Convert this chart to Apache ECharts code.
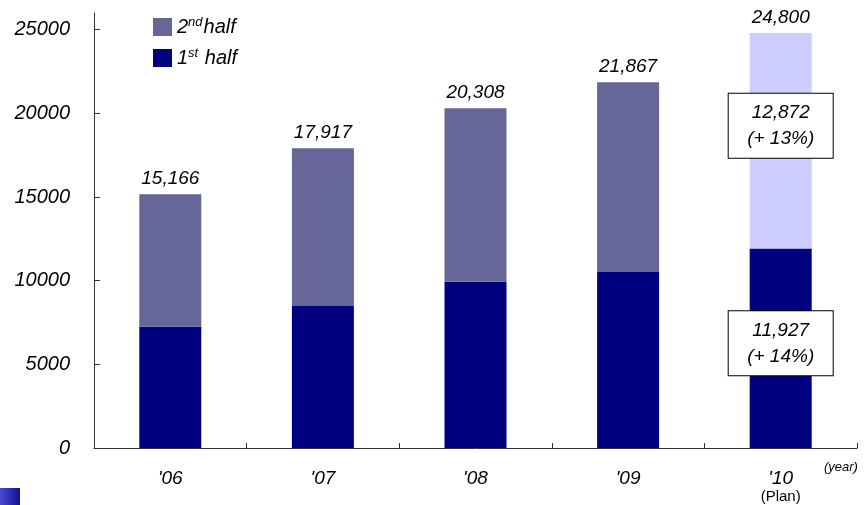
<!DOCTYPE html>
<html>
<head>
<meta charset="utf-8">
<script src="https://cdn.jsdelivr.net/npm/echarts@6/dist/echarts.min.js"></script>
<style>
  html, body { margin: 0; padding: 0; background: #fff; }
  #chart { width: 867px; height: 505px; }
</style>
</head>
<body>
<div id="chart"></div>
<script>
// Sales by half-year, 2006–2010 (2010 is the plan)
const years = ["'06", "'07", "'08", "'09", "'10"];
const firstHalf = [7240, 8490, 9930, 10520, 11927];
const secondHalf = [7926, 9427, 10378, 11347, 12872];
const totals = [15166, 17917, 20308, 21867, 24800];
const growthFirst = '(+ 14%)';
const growthSecond = '(+ 13%)';
const yTicks = [0, 5000, 10000, 15000, 20000, 25000];

const FONT = 'Liberation Sans, Arial, sans-serif';
const C_FIRST = '#000080';
const C_SECOND = '#666699';
const C_PLAN = '#ccccff';
const last = years.length - 1;

const boxLabel = (offsetY) => ({
  show: true,
  position: 'inside',
  offset: [0, offsetY],
  formatter: (p) => '{v|' + p.value.toLocaleString('en-US') + '}\n{v|' +
    (p.seriesName === '1st half' ? growthFirst : growthSecond) + '}',
  backgroundColor: '#fff',
  borderColor: '#000',
  borderWidth: 1,
  width: 96,
  padding: [6, 4],
  align: 'center',
  rich: {
    v: { fontFamily: FONT, fontStyle: 'italic', fontSize: 19, lineHeight: 26, color: '#000', align: 'center' }
  }
});

const firstData = firstHalf.map((v, i) => i === last
  ? { value: v, label: boxLabel(-5) }
  : v);
const secondData = secondHalf.map((v, i) => i === last
  ? { value: v, itemStyle: { color: C_PLAN }, label: boxLabel(-15) }
  : v);

const chart = echarts.init(document.getElementById('chart'), null, { renderer: 'canvas' });
chart.setOption({
  animation: false,
  backgroundColor: '#fff',
  grid: { left: 94, right: 10, top: 13, bottom: 56 },
  legend: {
    data: ['2nd half', '1st half'],
    orient: 'vertical',
    left: 148,
    top: 11,
    itemWidth: 19,
    itemHeight: 18,
    itemGap: 9,
    icon: 'rect',
    formatter: (name) => name === '2nd half' ? '2{sup|nd}half' : '1{sup|st} half',
    textStyle: {
      fontFamily: FONT, fontStyle: 'italic', fontSize: 20, lineHeight: 22, color: '#000',
      rich: {
        sup: { fontFamily: FONT, fontStyle: 'italic', fontSize: 13, lineHeight: 22, verticalAlign: 'top', color: '#000', padding: [0, 1, 0, 0] }
      }
    }
  },
  xAxis: {
    type: 'category',
    data: years,
    axisLine: { lineStyle: { color: '#333', width: 1 } },
    axisTick: { show: true, inside: true, length: 5, alignWithLabel: false, lineStyle: { color: '#333' } },
    axisLabel: {
      margin: 21,
      fontFamily: FONT, fontStyle: 'italic', fontSize: 19, lineHeight: 20, color: '#000',
      formatter: (v, i) => i === last ? v + '\n{s|(Plan)}' : v,
      rich: {
        s: { fontFamily: FONT, fontStyle: 'normal', fontSize: 15, lineHeight: 16, color: '#000' }
      }
    }
  },
  yAxis: {
    type: 'value',
    min: 0,
    max: 26000,
    interval: 5000,
    splitLine: { show: false },
    axisLine: { show: true, lineStyle: { color: '#333', width: 1 } },
    axisTick: { show: true, inside: true, length: 6, lineStyle: { color: '#333' } },
    axisLabel: {
      margin: 24,
      showMaxLabel: false,
      fontFamily: FONT, fontStyle: 'italic', fontSize: 20, color: '#000',
      formatter: (v) => yTicks.includes(v) ? String(v) : ''
    }
  },
  series: [
    {
      name: '1st half',
      type: 'bar',
      stack: 'sales',
      barWidth: 62,
      itemStyle: { color: C_FIRST },
      data: firstData
    },
    {
      name: '2nd half',
      type: 'bar',
      stack: 'sales',
      barWidth: 62,
      itemStyle: { color: C_SECOND },
      data: secondData
    },
    {
      name: 'total',
      type: 'bar',
      barWidth: 62,
      barGap: '-100%',
      z: 1,
      silent: true,
      itemStyle: { color: 'rgba(0,0,0,0)' },
      label: {
        show: true,
        position: 'top',
        distance: 6,
        fontFamily: FONT, fontStyle: 'italic', fontSize: 19, color: '#000',
        formatter: (p) => p.value.toLocaleString('en-US')
      },
      data: totals
    }
  ],
  graphic: [
    {
      type: 'text',
      left: 824,
      top: 461,
      style: { text: '(year)', fontFamily: FONT, fontStyle: 'italic', fontSize: 13, fill: '#000' }
    },
    {
      type: 'rect',
      left: 0,
      top: 488,
      shape: { width: 20, height: 17 },
      style: {
        fill: new echarts.graphic.LinearGradient(0, 0, 1, 0, [
          { offset: 0, color: '#4a4ad0' },
          { offset: 1, color: '#10108a' }
        ])
      }
    }
  ]
});
</script>
</body>
</html>
